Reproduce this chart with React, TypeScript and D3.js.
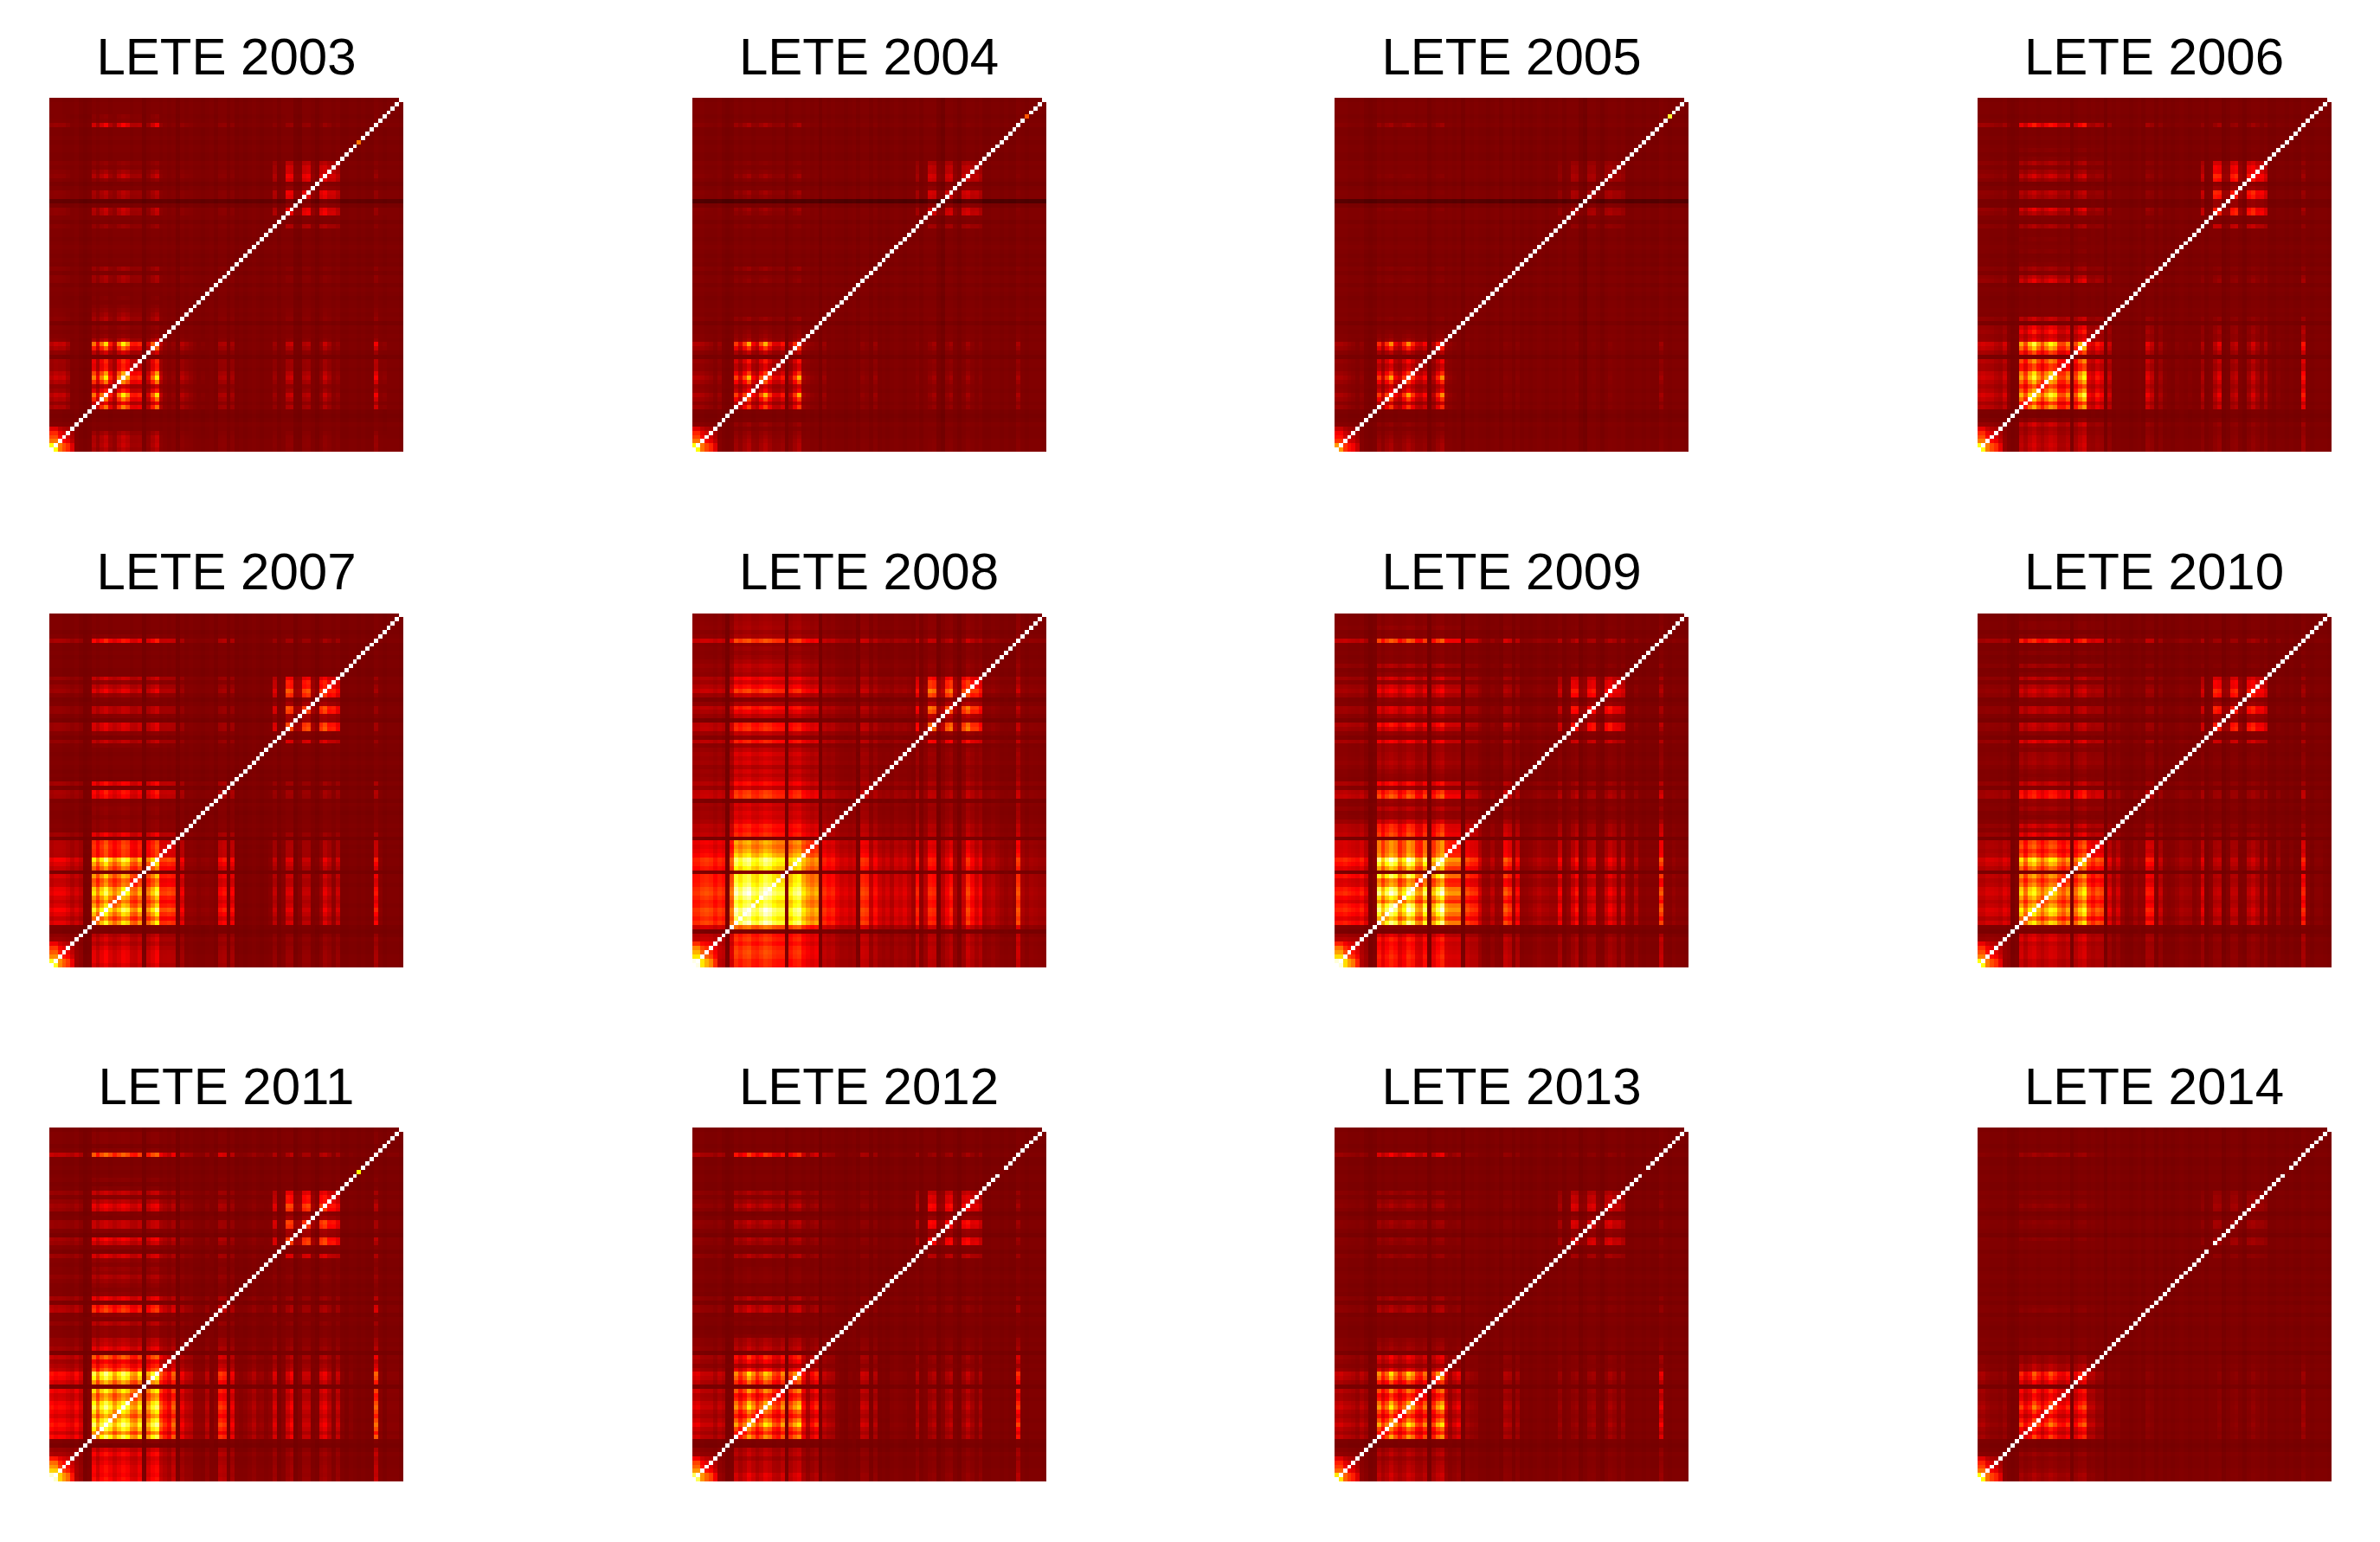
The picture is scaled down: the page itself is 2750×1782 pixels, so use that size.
import React, { useEffect, useRef } from "react";
import * as d3 from "d3";

const years = [2003, 2004, 2005, 2006, 2007, 2008, 2009, 2010, 2011, 2012, 2013, 2014];
const N = 84;

// Per-year loading of each of the 84 indices on the main block (hundredths, read by eye)
const loading2003 = [18,22,20,22,15,5,6,5,2,4, 60,30,60,85,40,22,62,90,70,40,38,42,5, 25,55,85,20,10,8,10,4, 18,14,10,8,6,8,6,5,6, 15,16,4,14,6,5,6,5,5,6,5,6,6, 12,5,6,20,22,4,6,16,18,5,6,10,22,14,8,10,4, 5,5,5,4,4,4,4,32,8,10,5,4,4,4];
const loading2004 = [18,18,16,14,12,8,12,6,2,3, 50,28,52,80,35,25,55,82,50,30,28,40,4, 22,48,78,16,12,10,8,3, 12,6,5,4,4,4,4,4,4, 10,8,3,12,4,4,4,4,4,4,4,4,4, 8,3,4,10,14,3,4,10,14,4,4,8,14,8,5,8,4, 4,4,4,4,4,4,4,16,5,4,4,4,4,4];
const loading2005 = [16,16,14,12,10,7,10,6,2,3, 50,25,52,78,35,25,50,78,50,30,26,38,4, 20,45,72,14,10,8,6,3, 8,5,4,4,4,4,4,4,4, 8,7,3,8,4,4,4,4,4,4,4,4,4, 6,3,4,6,8,3,4,6,7,4,4,6,8,6,4,6,4, 4,4,4,4,4,4,4,14,4,4,4,4,4,4];
const loading2006 = [22,24,22,22,18,16,24,10,3,6, 68,48,75,95,68,50,70,88,78,48,46,62,4, 48,72,90,30,25,38,30,4, 22,5,6,6,5,5,5,5,6, 28,20,8,14,8,6,5,8,6,5,8,6,6, 16,4,6,18,28,5,6,16,20,5,6,14,24,14,8,16,8, 6,8,6,5,6,5,5,36,6,5,6,6,5,5];
const loading2007 = [26,30,30,30,26,20,24,20,2,5, 82,60,80,100,75,60,72,92,85,60,55,72,4, 60,75,95,45,45,48,45,4, 30,10,10,10,8,10,10,8,8, 32,36,6,32,6,5,6,6,6,5,6,6,8, 20,5,8,25,26,6,8,20,20,6,8,12,28,20,10,22,6, 5,5,5,5,5,5,5,36,8,6,6,6,6,6];
const loading2008 = [36,36,40,42,40,34,38,36,3,50, 95,85,95,100,85,80,90,100,95,85,80,80,8, 75,85,90,70,60,55,60,6, 36,32,34,26,22,24,20,22,6, 40,38,20,30,22,18,22,16,22,20,24,18,12, 34,10,18,36,34,6,18,26,34,14,8,20,40,30,22,28,14, 16,18,14,12,10,12,10,42,14,12,14,13,12,12];
const loading2009 = [34,34,36,34,32,30,34,25,3,8, 90,65,85,100,90,60,75,100,90,60,55,85,4, 65,85,100,60,55,55,55,4, 42,38,36,22,12,12,18,10,12, 45,38,12,30,10,10,12,14,16,14,14,12,12, 28,8,10,22,32,8,12,22,24,8,10,20,28,22,10,22,10, 8,16,8,8,8,8,8,44,8,8,10,8,8,8];
const loading2010 = [22,22,26,26,25,22,28,25,3,8, 85,60,85,95,75,60,75,90,85,65,55,70,4, 60,78,92,55,45,55,50,4, 30,15,25,12,8,10,15,10,12, 40,38,8,22,10,8,10,12,15,14,14,8,10, 28,6,8,20,22,6,8,20,20,6,8,20,25,18,8,20,8, 6,14,6,6,8,6,6,42,8,6,8,8,6,6];
const loading2011 = [34,30,32,32,28,25,32,24,3,8, 90,62,85,100,85,65,80,95,85,65,60,80,3, 65,85,95,50,38,30,50,3, 28,20,18,10,10,10,18,6,10, 42,38,6,28,10,8,10,12,16,10,12,8,10, 24,6,8,22,30,6,8,20,20,6,8,24,28,18,8,20,8, 6,8,6,6,6,6,6,50,8,6,8,8,8,6];
const loading2012 = [28,30,22,22,22,16,22,20,3,6, 68,48,62,90,70,48,62,85,75,52,45,68,4, 55,70,82,38,18,35,45,4, 22,18,16,8,6,6,8,6,8, 24,22,6,18,6,5,6,8,8,8,8,6,6, 18,5,6,14,18,5,8,16,20,6,6,14,22,14,8,16,6, 5,6,5,5,5,5,5,46,6,5,6,6,5,5];
const loading2013 = [22,24,20,20,18,14,20,16,3,5, 70,46,60,90,65,45,60,85,72,48,42,62,4, 48,70,82,30,14,25,32,4, 14,12,10,6,6,6,6,5,6, 18,16,5,14,5,5,5,6,6,5,6,5,5, 12,5,5,10,12,5,6,12,14,5,5,10,16,12,6,12,5, 5,5,5,5,5,5,5,32,6,5,5,5,5,5];
const loading2014 = [18,20,14,12,12,10,14,8,2,4, 62,42,52,82,62,42,58,78,62,46,42,55,3, 42,58,68,25,25,15,15,3, 8,8,8,5,5,5,5,4,4, 10,8,4,6,4,4,5,5,5,5,5,5,4, 6,4,4,6,10,4,5,8,10,4,5,8,12,8,5,8,4, 4,5,4,4,4,4,4,16,5,4,5,5,4,4];
const loadings = [loading2003, loading2004, loading2005, loading2006, loading2007, loading2008, loading2009, loading2010, loading2011, loading2012, loading2013, loading2014];

// Strength of each structure per year
const blockGain = [0.72, 0.72, 0.72, 0.72, 0.72, 0.8, 0.78, 0.68, 0.74, 0.72, 0.72, 0.6];
const sectorGain = [0.15, 0.12, 0.06, 0.22, 0.28, 0.28, 0.18, 0.22, 0.26, 0.18, 0.13, 0.05];
const cornerGain = [0.55, 0.55, 0.4, 0.55, 0.55, 0.7, 0.7, 0.55, 0.7, 0.6, 0.5, 0.55];
const darkRow59 = [0.04, 0.07, 0.06, 0.01, 0, 0, 0, 0, 0, 0, 0, 0];

// Second cluster of indices (56-68), first cluster in the lower-left corner
const sectorIndex = [53, 56, 57, 58, 59, 60, 61, 62, 63, 64, 65, 66, 67, 68];
const sectorWeight = [40, 100, 90, 20, 20, 90, 100, 20, 10, 90, 100, 70, 80, 50];
const cornerWeight = [100, 100, 62, 50, 42, 25];

// Light and dark bands shared by all the panels
const bandTone = [1,1,1,0,0,0,1,-1,-2,-1, 1,0,1,1,0,1,1,1,1,0,1,1,-2, 0,1,1,0,1,0,1,-2, 1,0,1,0,0,-1,0,1,-1, 1,1,-1,1,-1,0,-1,0,1,0,-1,0,0, 1,-1,1,1,1,-2,0,1,1,0,-2,0,1,1,0,1,-1, -1,0,0,-1,0,-1,-1,1,0,-1,0,0,0,-1];

// Diagonal cells that are not 1
const diagYear = [2003, 2004, 2005, 2011, 2012, 2013, 2014, 2014];
const diagIndex = [73, 79, 79, 73, 73, 73, 73, 55];
const diagValue = [0.55, 0.5, 0.8, 0.75, 0.19, 0.19, 0.19, 0.19];

const WIDTH = 2750;
const HEIGHT = 1782;
const PANEL = 409;
const lefts = [57, 799.5, 1542, 2284.5];
const tops = [113, 708.5, 1303];

const hot = d3
  .scaleLinear<string>()
  .domain([0, 0.375, 0.75, 1])
  .range(["#000000", "#ff0000", "#ffff00", "#ffffff"])
  .clamp(true);

const indices = d3.range(N);
const sectorProfile = indices.map((i) => {
  const k = sectorIndex.indexOf(i);
  return k < 0 ? 0 : sectorWeight[k] / 100;
});
const cornerProfile = indices.map((i) => (i < cornerWeight.length ? cornerWeight[i] / 100 : 0));

// Low loadings barely show in the reference, so they are cut off
const effective = (a: number) => Math.max(0, a - 6) / 94;

function cellValue(y: number, r: number, c: number) {
  const year = years[y];
  if (r === c) {
    const k = diagYear.findIndex((d, n) => d === year && diagIndex[n] === r);
    return k < 0 ? 1 : diagValue[k];
  }
  const a = loadings[y];
  let v = 0.185;
  v += (bandTone[r] + bandTone[c]) * 0.004;
  v += blockGain[y] * effective(a[r]) * effective(a[c]);
  v += sectorGain[y] * sectorProfile[r] * sectorProfile[c];
  v += cornerGain[y] * cornerProfile[r] * cornerProfile[c];
  if (r === 59) v -= darkRow59[y];
  if (c === 59) v -= darkRow59[y] / 4;
  return v;
}

export default function App() {
  const ref = useRef<SVGSVGElement | null>(null);
  useEffect(() => {
    const svg = d3.select(ref.current);
    svg.selectAll("*").remove();
    years.forEach((year, y) => {
      const left = lefts[y % 4];
      const top = tops[Math.floor(y / 4)];
      const sx = d3.scaleBand<number>().domain(indices).range([left, left + PANEL]);
      const sy = d3.scaleBand<number>().domain(indices).range([top + PANEL, top]);
      const g = svg.append("g").attr("shape-rendering", "crispEdges");
      indices.forEach((r) => {
        g.selectAll(null)
          .data(indices)
          .enter()
          .append("rect")
          .attr("x", (c) => sx(c)!)
          .attr("y", sy(r)!)
          .attr("width", sx.bandwidth())
          .attr("height", sy.bandwidth())
          .attr("fill", (c) => hot(cellValue(y, r, c)));
      });
      svg
        .append("text")
        .attr("x", left + PANEL / 2)
        .attr("y", top - 27.5)
        .attr("text-anchor", "middle")
        .attr("font-family", "Liberation Sans")
        .attr("font-size", 60)
        .attr("fill", "#000")
        .text(`LETE ${year}`);
    });
  }, []);
  return (
    <svg
      ref={ref}
      width={WIDTH}
      height={HEIGHT}
      style={{ position: "absolute", left: 0, top: 0, background: "#fff", display: "block" }}
    />
  );
}
